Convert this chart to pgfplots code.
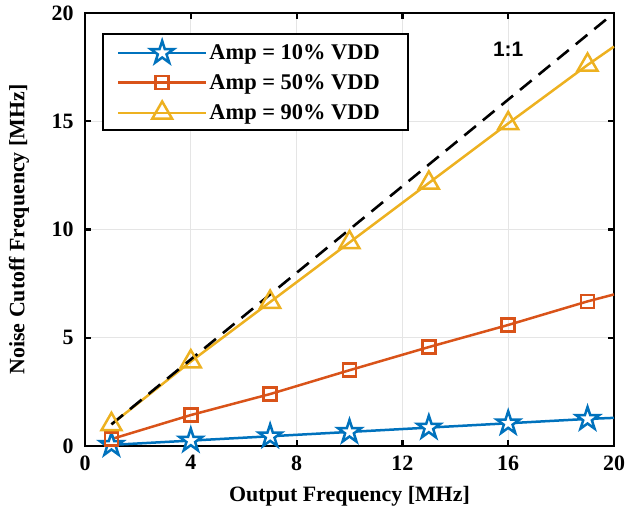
\documentclass[border=0pt]{standalone}
\usepackage{fontspec}
\setmainfont{Liberation Serif}
\newfontfamily\helv{Liberation Sans}
\usepackage{pgfplots}
\pgfplotsset{compat=1.18}
\definecolor{mblue}{rgb}{0,0.447,0.741}
\definecolor{morange}{rgb}{0.85,0.325,0.098}
\definecolor{myellow}{rgb}{0.929,0.694,0.125}
\pgfdeclareplotmark{pentagram}{%
  \pgfpathmoveto{\pgfpointpolar{90}{\pgfplotmarksize}}%
  \pgfpathlineto{\pgfpointpolar{126}{0.382\pgfplotmarksize}}%
  \pgfpathlineto{\pgfpointpolar{162}{\pgfplotmarksize}}%
  \pgfpathlineto{\pgfpointpolar{198}{0.382\pgfplotmarksize}}%
  \pgfpathlineto{\pgfpointpolar{234}{\pgfplotmarksize}}%
  \pgfpathlineto{\pgfpointpolar{270}{0.382\pgfplotmarksize}}%
  \pgfpathlineto{\pgfpointpolar{306}{\pgfplotmarksize}}%
  \pgfpathlineto{\pgfpointpolar{342}{0.382\pgfplotmarksize}}%
  \pgfpathlineto{\pgfpointpolar{18}{\pgfplotmarksize}}%
  \pgfpathlineto{\pgfpointpolar{54}{0.382\pgfplotmarksize}}%
  \pgfpathclose
  \pgfusepathqfillstroke
}
\begin{document}
\begin{tikzpicture}
\begin{axis}[
  scale only axis,
  width=529bp, height=433bp,
  xmin=0, xmax=20, ymin=0, ymax=20,
  xtick={0,4,8,12,16,20},
  ytick={0,5,10,15,20},
  grid=major,
  major grid style={line width=1.4bp, color=black!10},
  axis line style={line width=2.4bp, black},
  tick style={line width=2.2bp, black},
  major tick length=6bp,
  tick align=inside,
  /pgf/number format/assume math mode=true,
  ticklabel style={font=\fontsize{22}{25}\selectfont\bfseries},
  yticklabel style={xshift=-8bp},
  xticklabel style={yshift=-6bp},
  label style={font=\fontsize{22}{25}\selectfont\bfseries},
  xlabel={Output Frequency [MHz]},
  ylabel={Noise Cutoff Frequency [MHz]},
  xlabel style={at={([yshift=-50bp]axis description cs:0.5,0)}, anchor=center},
  ylabel style={at={([xshift=-66bp]axis description cs:0,0.5)}, anchor=center},
  legend style={at={(rel axis cs:0.032,0.954)}, anchor=north west,
    draw=black, line width=2bp,
    font=\fontsize{22.5}{25}\selectfont\bfseries,
    row sep=9bp, inner xsep=14bp, inner ysep=7bp,
    /tikz/every even column/.append style={column sep=5bp}},
  legend cell align=left,
  legend image code/.code={%
    \draw[mark indices={2}, line width=2.5bp] plot coordinates {(0bp,0bp) (44bp,0bp) (88bp,0bp)};},
  clip=false,
]
\addplot[color=mblue, line width=2.5bp, mark=pentagram, mark size=12bp, mark options={fill=white, line width=2.5bp, solid}, mark indices={1,2,3,4,5,6,7}]
  coordinates {(1,0.05) (4,0.25) (7,0.45) (10,0.65) (13,0.85) (16,1.05) (19,1.25) (20,1.3)};
\addlegendentry{Amp = 10\% VDD\hspace*{12bp}}
\addplot[color=morange, line width=2.5bp, mark=square, mark size=6.5bp, mark options={fill=white, line width=2.5bp, solid}, mark indices={1,2,3,4,5,6,7}]
  coordinates {(1,0.32) (4,1.43) (7,2.4) (10,3.5) (13,4.57) (16,5.59) (19,6.68) (20,7.0)};
\addlegendentry{Amp = 50\% VDD\hspace*{12bp}}
\addplot[color=myellow, line width=2.5bp, mark=triangle, mark size=11.5bp, mark options={fill=white, fill opacity=0, line width=2.5bp, solid}, mark indices={1,2,3,4,5,6,7}]
  coordinates {(1,1.0) (4,3.9) (7,6.65) (10,9.4) (13,12.15) (16,14.9) (19,17.6) (20,18.45)};
\addlegendentry{Amp = 90\% VDD\hspace*{12bp}}
\addplot[color=black, line width=2.6bp, dash pattern=on 15bp off 9bp, forget plot]
  coordinates {(1,1) (20,20)};
\node[font=\helv\fontsize{21}{24}\selectfont\bfseries] at (axis cs:16,18.3) {1:1};
\end{axis}
\pgfresetboundingbox
\path[use as bounding box] ([xshift=-85bp,yshift=-76bp]current axis.south west) rectangle ([xshift=12bp,yshift=13bp]current axis.north east);
\end{tikzpicture}
\end{document}
